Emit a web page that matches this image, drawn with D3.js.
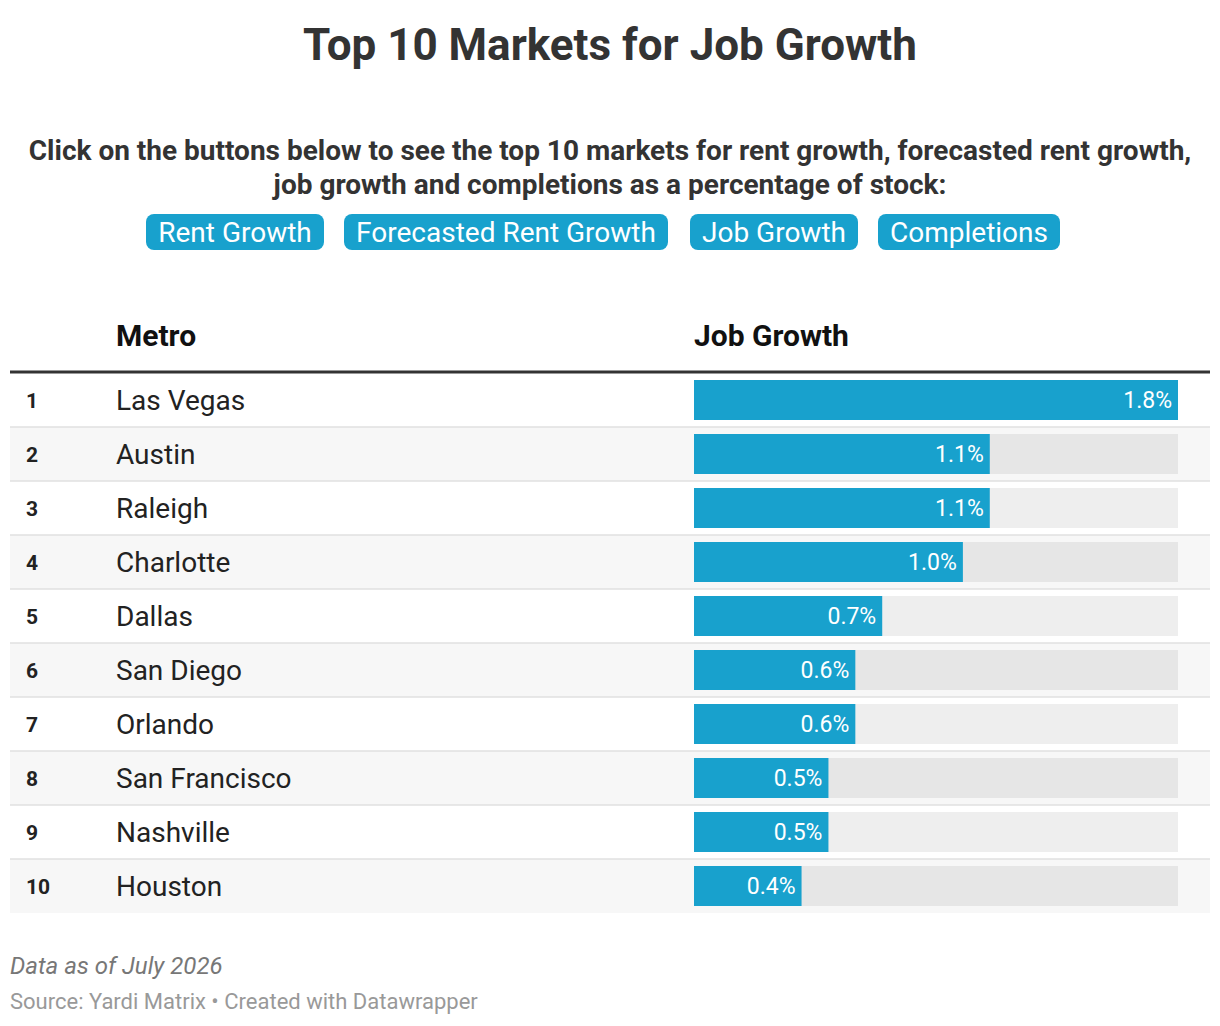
<html>
<head>
<meta charset="UTF-8">
<script src="https://d3js.org/d3.v7.min.js"></script>
<style>
  body { margin: 0; background: #fff; }
  svg { font-family: Roboto, sans-serif; }
</style>
</head>
<body>
<script>
// data
const ranks = [1, 2, 3, 4, 5, 6, 7, 8, 9, 10];
const metros = ["Las Vegas", "Austin", "Raleigh", "Charlotte", "Dallas", "San Diego", "Orlando", "San Francisco", "Nashville", "Houston"];
const jobGrowth = [1.8, 1.1, 1.1, 1.0, 0.7, 0.6, 0.6, 0.5, 0.5, 0.4];
const buttons = ["Rent Growth", "Forecasted Rent Growth", "Job Growth", "Completions"];

const width = 1220, height = 1026;
const svg = d3.select("body").append("svg").attr("width", width).attr("height", height);

svg.append("text").attr("x", 610).attr("y", 60).attr("text-anchor", "middle")
  .style("font-size", "44px").style("font-weight", "bold").attr("fill", "#333")
  .text("Top 10 Markets for Job Growth");

const sub = ["Click on the buttons below to see the top 10 markets for rent growth, forecasted rent growth,",
  "job growth and completions as a percentage of stock:"];
svg.append("g").selectAll("text").data(sub).join("text")
  .attr("x", 610).attr("y", (d, i) => 160 + i * 34).attr("text-anchor", "middle")
  .style("font-size", "28px").style("font-weight", "bold").attr("fill", "#333").text(d => d);

// buttons
const bw = [178, 324, 168, 182];
const bx = [146, 344, 690, 878];
const btn = svg.append("g").selectAll("g").data(buttons).join("g")
  .attr("transform", (d, i) => `translate(${bx[i]},214)`);
btn.append("rect").attr("width", (d, i) => bw[i]).attr("height", 36).attr("rx", 8)
  .attr("fill", "#18a1cd");
btn.append("text").attr("x", (d, i) => bw[i] / 2).attr("y", 28).attr("text-anchor", "middle")
  .style("font-size", "28px").attr("fill", "#fff").text(d => d);

// table
const rowTop = 373, rowH = 54;
const y = d3.scaleBand().domain(ranks).range([rowTop, rowTop + rowH * ranks.length]);
const x = d3.scaleLinear().domain([0, 1.8]).range([694, 1178]);

svg.append("text").attr("x", 116).attr("y", 346).style("font-size", "30px").style("font-weight", "bold").attr("fill", "#111").text("Metro");
svg.append("text").attr("x", 694).attr("y", 346).style("font-size", "30px").style("font-weight", "bold").attr("fill", "#111").text("Job Growth");

const rows = svg.append("g").selectAll("g").data(ranks).join("g")
  .attr("transform", d => `translate(0,${y(d)})`);
rows.append("rect").attr("x", 10).attr("width", 1200).attr("height", rowH)
  .attr("fill", (d, i) => i % 2 ? "#f7f7f7" : "#fff");
rows.filter((d, i) => i > 0).append("line").attr("x1", 10).attr("x2", 1210)
  .attr("stroke", "#e0e0e0").attr("stroke-width", 1.5);
rows.append("text").attr("x", 26).attr("y", 35).style("font-size", "21px").style("font-weight", "bold")
  .attr("fill", "#222").text(d => d);
rows.append("text").attr("x", 116).attr("y", 37).style("font-size", "28px").attr("fill", "#222")
  .text((d, i) => metros[i]);
rows.append("rect").attr("x", x(0)).attr("y", 7).attr("width", x(1.8) - x(0)).attr("height", 40)
  .attr("fill", (d, i) => i % 2 ? "#e6e6e6" : "#eeeeee");
rows.append("rect").attr("x", x(0)).attr("y", 7).attr("width", (d, i) => x(jobGrowth[i]) - x(0)).attr("height", 40)
  .attr("fill", "#18a1cd");
rows.append("text").attr("x", (d, i) => x(jobGrowth[i]) - 6).attr("y", 35).attr("text-anchor", "end")
  .style("font-size", "23px").attr("fill", "#fff").text((d, i) => jobGrowth[i].toFixed(1) + "%");

svg.append("line").attr("x1", 10).attr("x2", 1210).attr("y1", 372).attr("y2", 372)
  .attr("stroke", "#333").attr("stroke-width", 3);

svg.append("text").attr("x", 10).attr("y", 974).style("font-size", "24px").style("font-style", "italic")
  .attr("fill", "#777").text("Data as of July 2026");
svg.append("text").attr("x", 10).attr("y", 1009).style("font-size", "22px")
  .attr("fill", "#999").text("Source: Yardi Matrix • Created with Datawrapper");
</script>
</body>
</html>
